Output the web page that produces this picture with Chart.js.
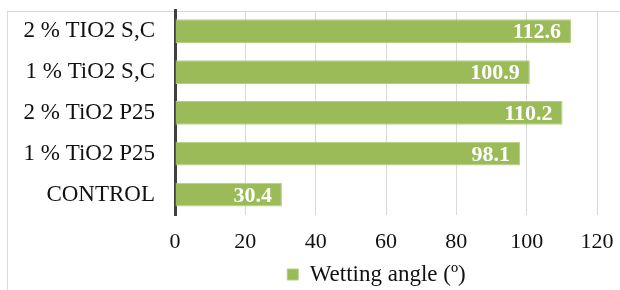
<!DOCTYPE html>
<html>
<head>
<meta charset="utf-8">
<script src="https://cdn.jsdelivr.net/npm/chart.js@4"></script>
<style>
  html, body { margin: 0; padding: 0; background: #fff; }
  #wrap { width: 620px; height: 290px; }
</style>
</head>
<body>
<div id="wrap"><canvas id="wettingChart" width="620" height="290"></canvas></div>
<script>
const categories = ['2 % TIO2 S,C', '1 % TiO2 S,C', '2 % TiO2 P25', '1 % TiO2 P25', 'CONTROL'];
const wettingAngle = [112.6, 100.9, 110.2, 98.1, 30.4];
const xTicks = [0, 20, 40, 60, 80, 100, 120];
const seriesName = 'Wetting angle (º)';

const fontFamily = '"Liberation Serif", "Times New Roman", serif';

// white bold values at the inner end of each bar
const barValues = {
    id: 'barValues',
    afterDatasetsDraw(chart) {
        const ctx = chart.ctx;
        const meta = chart.getDatasetMeta(0);
        ctx.save();
        ctx.font = 'bold 22px ' + fontFamily;
        ctx.fillStyle = '#ffffff';
        ctx.textAlign = 'right';
        ctx.textBaseline = 'middle';
        meta.data.forEach(function(bar, i) {
            ctx.fillText(wettingAngle[i].toFixed(1), bar.x - 10, bar.y + 1.5);
        });
        ctx.restore();
    }
};

// thin grey frame like the spreadsheet chart area (cut off on the right and bottom)
const frame = {
    id: 'frame',
    beforeDraw(chart) {
        const ctx = chart.ctx;
        ctx.save();
        ctx.strokeStyle = '#d9d9d9';
        ctx.lineWidth = 1;
        ctx.strokeRect(7.5, 11.5, 700, 400);
        ctx.restore();
    }
};

// the original legend sits under the plot area, not under the whole canvas
const legendShift = {
    id: 'legendShift',
    afterLayout(chart) {
        chart.legend.left += 78;
        chart.legend.right += 78;
    }
};

const ctx = document.getElementById('wettingChart').getContext('2d');
const myChart = new Chart(ctx, {
    type: 'bar',
    data: {
        labels: categories,
        datasets: [{
            label: seriesName,
            data: wettingAngle,
            backgroundColor: '#9bbb59',
            borderColor: '#b4cf85',
            borderWidth: 1,
            categoryPercentage: 0.6,
            barPercentage: 0.97
        }]
    },
    plugins: [frame, barValues, legendShift],
    options: {
        indexAxis: 'y',
        responsive: false,
        animation: false,
        layout: { padding: { top: 0, right: 23, left: 0, bottom: -6 } },
        scales: {
            x: {
                min: 0,
                max: 120,
                afterBuildTicks: function(scale) {
                    scale.ticks = xTicks.map(function(v) { return { value: v }; });
                },
                grid: {
                    color: '#d9d9d9',
                    lineWidth: 1,
                    drawTicks: true,
                    tickLength: 14,
                    tickColor: 'rgba(0,0,0,0)'
                },
                border: { display: false },
                ticks: {
                    padding: 0,
                    color: '#111',
                    font: { family: fontFamily, size: 22 }
                },
                afterFit: function(scale) { scale.height = 44; }
            },
            y: {
                grid: {
                    display: true,
                    drawOnChartArea: false,
                    drawTicks: true,
                    tickLength: 23,
                    tickColor: 'rgba(0,0,0,0)'
                },
                border: { display: true, color: '#404040', width: 3 },
                ticks: {
                    padding: -3,
                    color: '#111',
                    font: { family: fontFamily, size: 23 }
                },
                afterFit: function(scale) { scale.width = 175; }
            }
        },
        plugins: {
            legend: {
                position: 'bottom',
                labels: {
                    boxWidth: 11,
                    boxHeight: 11,
                    padding: 4,
                    color: '#111',
                    font: { family: fontFamily, size: 23 }
                }
            },
            tooltip: { enabled: false }
        }
    }
});
</script>
</body>
</html>
